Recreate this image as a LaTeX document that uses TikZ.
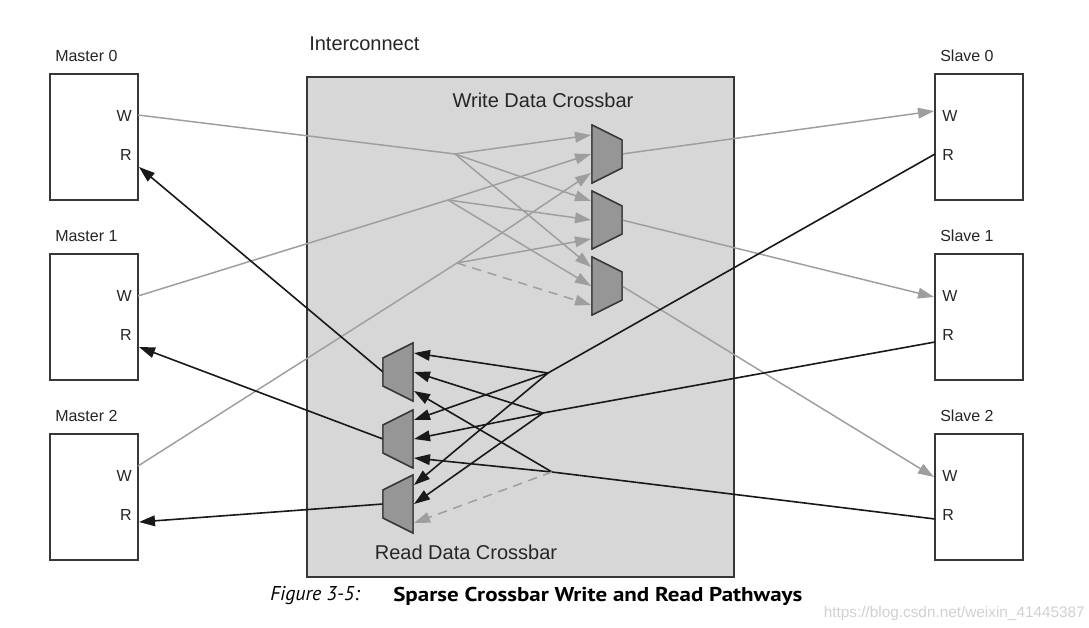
\documentclass[tikz,border=0pt]{standalone}
\usepackage{fontspec}
\setmainfont{Liberation Sans}
\newfontfamily\capfont{PT Sans}
\usetikzlibrary{arrows.meta}
\definecolor{icgray}{RGB}{215,215,215}
\definecolor{wrgray}{RGB}{158,158,158}
\definecolor{muxgray}{RGB}{150,150,150}
\definecolor{edgegray}{RGB}{55,55,55}
\tikzset{
  unit/.style={draw=edgegray, line width=1.1pt, minimum width=66pt, minimum height=94.5pt, inner sep=0pt},
  icbox/.style={draw=edgegray, fill=icgray, line width=1.1pt, minimum width=320.25pt, minimum height=375pt, inner sep=0pt},
  lbl/.style={font=\fontsize{12}{14}\selectfont, text=black!85, inner sep=0pt},
  bigl/.style={font=\fontsize{15}{18}\selectfont, text=black!85, inner sep=0pt},
  mux/.style={draw=edgegray, fill=muxgray, line width=1.1pt, line join=miter},
  wr/.style={draw=wrgray, line width=1.1pt, -{Triangle[length=12pt,width=8pt]}, wrgray},
  rd/.style={draw=black!90, line width=1.2pt, -{Triangle[length=12pt,width=8pt]}},
  gap/.style={dash pattern=on 7pt off 5pt}
}
\begin{document}
\begin{tikzpicture}[x=0.75pt,y=-0.75pt]
\useasboundingbox[fill=white] (0,0) rectangle (1089,628);
% interconnect
\node[icbox] (ic) at (520.5,327) {};
\node[bigl, anchor=west] (iclbl) at (309,44) {Interconnect};
\node[bigl] (wlbl) at (543,100) {Write Data Crossbar};
\node[bigl] (rlbl) at (466,552) {Read Data Crossbar};
% masters and slaves
\foreach \i/\y/\w/\r in {0/137/115/167, 1/317/296/347, 2/497/466/522} {
  \node[unit] (m\i) at (94,\y) {};
  \node[lbl, anchor=west] at (55,\y-81) {Master \i};
  \node[lbl, anchor=east] at (132,\y-21) {W};
  \node[lbl, anchor=east] at (132,\y+18) {R};
  \coordinate (m\i W) at (138,\w);
  \coordinate (m\i R) at (139,\r);
}
\foreach \i/\y/\w/\r in {0/137/111/154, 1/317/297/342, 2/497/477/519} {
  \node[unit] (s\i) at (979,\y) {};
  \node[lbl, anchor=west] at (940,\y-81) {Slave \i};
  \node[lbl, anchor=west] at (942,\y-21) {W};
  \node[lbl, anchor=west] at (942,\y+18) {R};
  \coordinate (s\i W) at (934,\w);
  \coordinate (s\i R) at (935,\r);
}
% crossbar muxes
\foreach \k/\y in {0/154, 1/220, 2/286} {
  \draw[mux] (592,\y-29) -- (622,\y-14) -- (622,\y+14) -- (592,\y+29) -- cycle;
  \coordinate (wx\k) at (622,\y);
  \foreach \j/\d in {0/-19, 1/0, 2/19}
    \coordinate (wx\k-\j) at (591,\y+\d);
}
\foreach \k/\y in {0/372, 1/439, 2/504} {
  \draw[mux] (413,\y-29) -- (383,\y-14) -- (383,\y+14) -- (413,\y+29) -- cycle;
  \coordinate (rx\k) at (383,\y);
  \foreach \j/\d in {0/-19, 1/0, 2/19}
    \coordinate (rx\k-\j) at (414,\y+\d);
}
% fan-out points
\coordinate (ws0) at (455,154);
\coordinate (ws1) at (448,200);
\coordinate (ws2) at (457,263);
\coordinate (rs0) at (548,373);
\coordinate (rs1) at (543,413);
\coordinate (rs2) at (552,472);
% write pathways
\foreach \i in {0,1,2} {
  \draw[wr] (m\i W) -- (ws\i) -- (wx0-\i);
  \draw[wr] (ws\i) -- (wx1-\i);
  \draw[wr] (wx\i) -- (s\i W);
}
\draw[wr] (ws0) -- (wx2-0);
\draw[wr] (ws1) -- (wx2-1);
\draw[wr, gap] (ws2) -- (wx2-2);
% read pathways
\foreach \i in {0,1,2} {
  \draw[rd] (s\i R) -- (rs\i) -- (rx0-\i);
  \draw[rd] (rs\i) -- (rx1-\i);
  \draw[rd] (rx\i) -- (m\i R);
}
\draw[rd] (rs0) -- (rx2-0);
\draw[rd] (rs1) -- (rx2-1);
\draw[wr, gap] (rs2) -- (rx2-2);
% muxes again on top of the wire ends
\foreach \k/\y in {0/154, 1/220, 2/286}
  \draw[mux] (592,\y-29) -- (622,\y-14) -- (622,\y+14) -- (592,\y+29) -- cycle;
\foreach \k/\y in {0/372, 1/439, 2/504}
  \draw[mux] (413,\y-29) -- (383,\y-14) -- (383,\y+14) -- (413,\y+29) -- cycle;
% caption
\node[anchor=west, inner sep=0pt, font=\capfont\fontsize{15}{17}\selectfont\itshape] (fig) at (270,596) {Figure 3-5:};
\node[anchor=west, inner sep=0pt, font=\capfont\fontsize{15}{17}\selectfont\bfseries] (cap) at (393,596) {\scalebox{1.15}[1]{Sparse Crossbar Write and Read Pathways}};
\node[anchor=east, inner sep=0pt, font=\fontsize{11.5}{13}\selectfont, text=black!18] (wm) at (1085,614) {https://blog.csdn.net/weixin\_41445387};
\end{tikzpicture}
\end{document}
